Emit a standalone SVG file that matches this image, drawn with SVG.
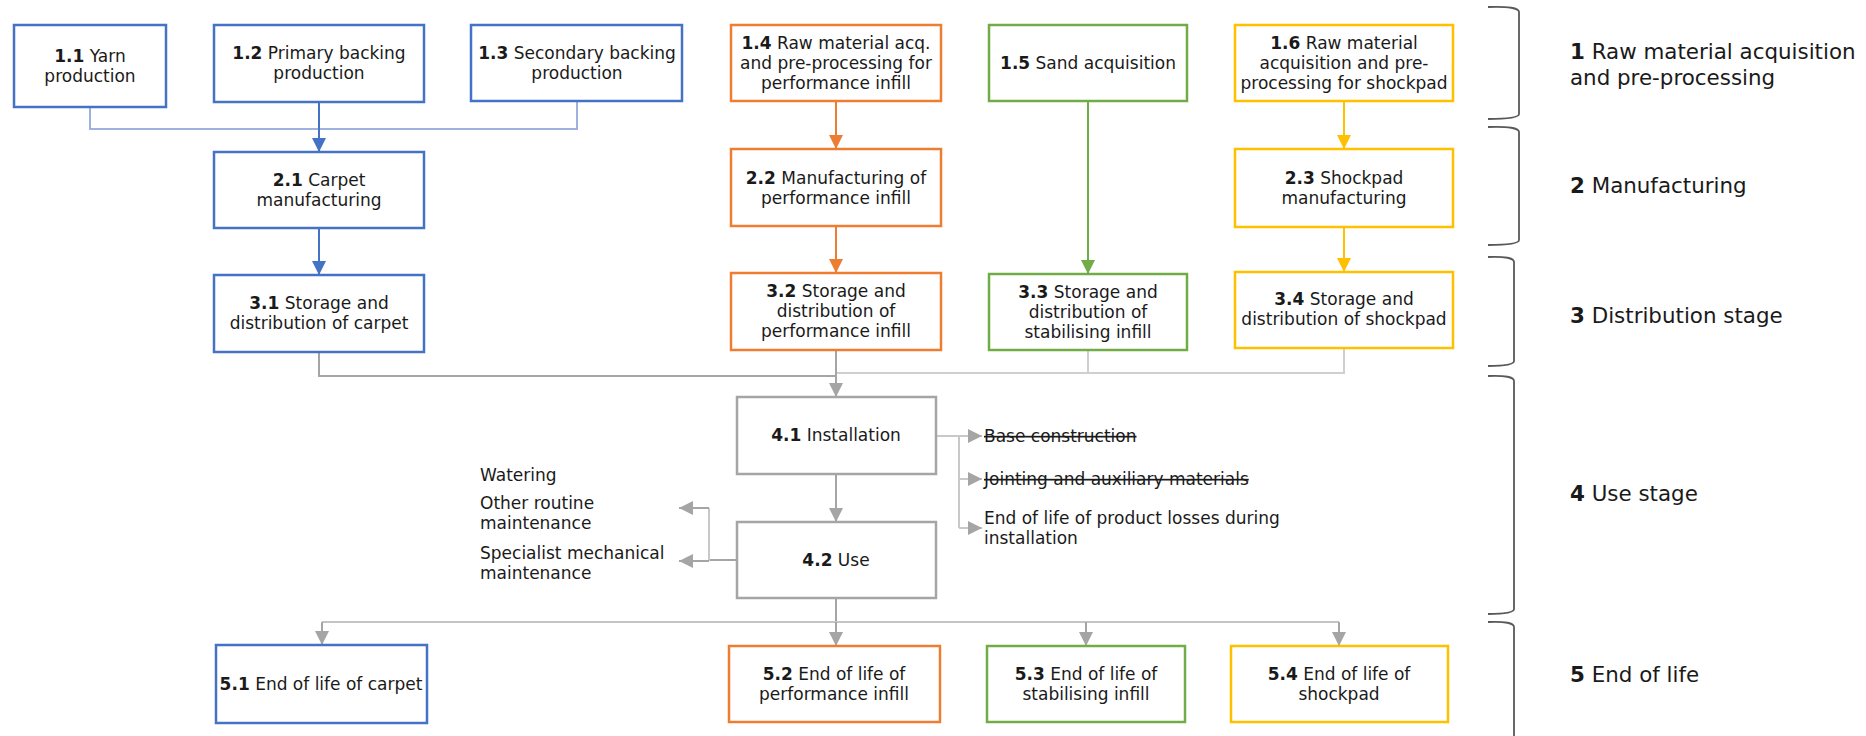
<svg xmlns="http://www.w3.org/2000/svg" width="1866" height="736" viewBox="0 0 1866 736">
<style>
text{font-family:"DejaVu Sans","Open Sans","Liberation Sans",sans-serif;fill:#1a1a1a}
.t{font-size:17px;text-anchor:middle}
.s{font-size:17px}
.lab{font-size:21.4px}
.b{font-weight:bold}
.box{fill:#fff;stroke-width:2.5}
.blue{stroke:#4472C4}.orange{stroke:#ED7D31}.green{stroke:#70AD47}.yellow{stroke:#FFC000}.grey{stroke:#A5A5A5}
.ln{fill:none;stroke-width:2}
.strike{text-decoration:line-through}
.br{fill:none;stroke:#595959;stroke-width:1.8}
</style>
<defs>
<marker id="aB" markerUnits="userSpaceOnUse" markerWidth="14" markerHeight="14" refX="14" refY="7" orient="auto"><path d="M0,0L14,7L0,14z" fill="#4472C4"/></marker>
<marker id="aO" markerUnits="userSpaceOnUse" markerWidth="14" markerHeight="14" refX="14" refY="7" orient="auto"><path d="M0,0L14,7L0,14z" fill="#ED7D31"/></marker>
<marker id="aG" markerUnits="userSpaceOnUse" markerWidth="14" markerHeight="14" refX="14" refY="7" orient="auto"><path d="M0,0L14,7L0,14z" fill="#70AD47"/></marker>
<marker id="aY" markerUnits="userSpaceOnUse" markerWidth="14" markerHeight="14" refX="14" refY="7" orient="auto"><path d="M0,0L14,7L0,14z" fill="#FFC000"/></marker>
<marker id="aR" markerUnits="userSpaceOnUse" markerWidth="14" markerHeight="14" refX="14" refY="7" orient="auto"><path d="M0,0L14,7L0,14z" fill="#A5A5A5"/></marker>
</defs>
<rect width="1866" height="736" fill="#fff"/>

<g id="connectors">
<path class="ln" stroke="#9DB3DE" d="M90,107V129H577V101"/>
<path class="ln" stroke="#4472C4" stroke-width="1.6" d="M319,102V152" marker-end="url(#aB)"/>
<path class="ln" stroke="#4472C4" stroke-width="1.6" d="M319,228V275" marker-end="url(#aB)"/>
<path class="ln" stroke="#ED7D31" stroke-width="1.6" d="M836,101V149" marker-end="url(#aO)"/>
<path class="ln" stroke="#ED7D31" stroke-width="1.6" d="M836,226V273" marker-end="url(#aO)"/>
<path class="ln" stroke="#70AD47" stroke-width="1.6" d="M1088,101V274" marker-end="url(#aG)"/>
<path class="ln" stroke="#FFC000" stroke-width="1.6" d="M1344,101V149" marker-end="url(#aY)"/>
<path class="ln" stroke="#FFC000" stroke-width="1.6" d="M1344,227V272" marker-end="url(#aY)"/>
<path class="ln" stroke="#A5A5A5" d="M319,352V376H836"/>
<path class="ln" stroke="#CFCFCF" stroke-width="2.5" d="M1088,350V373M1344,348V373H836"/>
<path class="ln" stroke="#A5A5A5" d="M836,350V397" marker-end="url(#aR)"/>
<path class="ln" stroke="#A5A5A5" d="M836,474V522" marker-end="url(#aR)"/>
<path class="ln" stroke="#C8C8C8" d="M936,436H982" marker-end="url(#aR)"/>
<path class="ln" stroke="#C8C8C8" d="M959,436V528"/>
<path class="ln" stroke="#C8C8C8" d="M959,479H982" marker-end="url(#aR)"/>
<path class="ln" stroke="#C8C8C8" d="M959,528H982" marker-end="url(#aR)"/>
<path class="ln" stroke="#A5A5A5" d="M737,560H708"/>
<path class="ln" stroke="#C8C8C8" d="M709,561V508"/>
<path class="ln" stroke="#A5A5A5" d="M709,561H679" marker-end="url(#aR)"/>
<path class="ln" stroke="#A5A5A5" d="M709,508H679" marker-end="url(#aR)"/>
<path class="ln" stroke="#A5A5A5" d="M836,598V622"/>
<path class="ln" stroke="#C4C4C4" d="M322,622H1339"/>
<path class="ln" stroke="#A5A5A5" d="M322,622V645" marker-end="url(#aR)"/>
<path class="ln" stroke="#A5A5A5" d="M836,622V646" marker-end="url(#aR)"/>
<path class="ln" stroke="#A5A5A5" d="M1086,622V646" marker-end="url(#aR)"/>
<path class="ln" stroke="#A5A5A5" d="M1339,622V646" marker-end="url(#aR)"/>
</g>

<g id="n1_1"><rect class="box blue" x="14" y="25" width="152" height="82"/><text class="t" x="90" y="62"><tspan class="b">1.1</tspan> Yarn<tspan x="90" dy="20">production</tspan></text></g>
<g id="n1_2"><rect class="box blue" x="214" y="25" width="210" height="77"/><text class="t" x="319" y="59"><tspan class="b">1.2</tspan> Primary backing<tspan x="319" dy="20">production</tspan></text></g>
<g id="n1_3"><rect class="box blue" x="471" y="25" width="211" height="76"/><text class="t" x="577" y="59"><tspan class="b">1.3</tspan> Secondary backing<tspan x="577" dy="20">production</tspan></text></g>
<g id="n1_4"><rect class="box orange" x="731" y="25" width="210" height="76"/><text class="t" x="836" y="49"><tspan class="b">1.4</tspan> Raw material acq.<tspan x="836" dy="20">and pre-processing for</tspan><tspan x="836" dy="20">performance infill</tspan></text></g>
<g id="n1_5"><rect class="box green" x="989" y="25" width="198" height="76"/><text class="t" x="1088" y="69"><tspan class="b">1.5</tspan> Sand acquisition</text></g>
<g id="n1_6"><rect class="box yellow" x="1235" y="25" width="218" height="76"/><text class="t" x="1344" y="49"><tspan class="b">1.6</tspan> Raw material<tspan x="1344" dy="20">acquisition and pre-</tspan><tspan x="1344" dy="20">processing for shockpad</tspan></text></g>

<g id="n2_1"><rect class="box blue" x="214" y="152" width="210" height="76"/><text class="t" x="319" y="186"><tspan class="b">2.1</tspan> Carpet<tspan x="319" dy="20">manufacturing</tspan></text></g>
<g id="n2_2"><rect class="box orange" x="731" y="149" width="210" height="77"/><text class="t" x="836" y="184"><tspan class="b">2.2</tspan> Manufacturing of<tspan x="836" dy="20">performance infill</tspan></text></g>
<g id="n2_3"><rect class="box yellow" x="1235" y="149" width="218" height="78"/><text class="t" x="1344" y="184"><tspan class="b">2.3</tspan> Shockpad<tspan x="1344" dy="20">manufacturing</tspan></text></g>

<g id="n3_1"><rect class="box blue" x="214" y="275" width="210" height="77"/><text class="t" x="319" y="309"><tspan class="b">3.1</tspan> Storage and<tspan x="319" dy="20">distribution of carpet</tspan></text></g>
<g id="n3_2"><rect class="box orange" x="731" y="273" width="210" height="77"/><text class="t" x="836" y="297"><tspan class="b">3.2</tspan> Storage and<tspan x="836" dy="20">distribution of</tspan><tspan x="836" dy="20">performance infill</tspan></text></g>
<g id="n3_3"><rect class="box green" x="989" y="274" width="198" height="76"/><text class="t" x="1088" y="298"><tspan class="b">3.3</tspan> Storage and<tspan x="1088" dy="20">distribution of</tspan><tspan x="1088" dy="20">stabilising infill</tspan></text></g>
<g id="n3_4"><rect class="box yellow" x="1235" y="272" width="218" height="76"/><text class="t" x="1344" y="305"><tspan class="b">3.4</tspan> Storage and<tspan x="1344" dy="20">distribution of shockpad</tspan></text></g>

<g id="n4_1"><rect class="box grey" x="737" y="397" width="199" height="77"/><text class="t" x="836" y="441"><tspan class="b">4.1</tspan> Installation</text></g>
<g id="n4_2"><rect class="box grey" x="737" y="522" width="199" height="76"/><text class="t" x="836" y="566"><tspan class="b">4.2</tspan> Use</text></g>

<g id="side_install">
<text class="s strike" x="984" y="442">Base construction</text>
<text class="s strike" x="984" y="485">Jointing and auxiliary materials</text>
<text class="s" x="984" y="524">End of life of product losses during<tspan x="984" dy="20">installation</tspan></text>
</g>
<g id="side_use">
<text class="s" x="480" y="481">Watering</text>
<text class="s" x="480" y="509">Other routine<tspan x="480" dy="20">maintenance</tspan></text>
<text class="s" x="480" y="559">Specialist mechanical<tspan x="480" dy="20">maintenance</tspan></text>
</g>

<g id="n5_1"><rect class="box blue" x="216" y="645" width="211" height="78"/><text class="t" x="321" y="690"><tspan class="b">5.1</tspan> End of life of carpet</text></g>
<g id="n5_2"><rect class="box orange" x="729" y="646" width="211" height="76"/><text class="t" x="834" y="680"><tspan class="b">5.2</tspan> End of life of<tspan x="834" dy="20">performance infill</tspan></text></g>
<g id="n5_3"><rect class="box green" x="987" y="646" width="198" height="76"/><text class="t" x="1086" y="680"><tspan class="b">5.3</tspan> End of life of<tspan x="1086" dy="20">stabilising infill</tspan></text></g>
<g id="n5_4"><rect class="box yellow" x="1231" y="646" width="217" height="76"/><text class="t" x="1339" y="680"><tspan class="b">5.4</tspan> End of life of<tspan x="1339" dy="20">shockpad</tspan></text></g>

<g id="stages">
<path class="br" d="M1488,7Q1519,6 1519,12V114Q1519,119 1488,119"/>
<path class="br" d="M1488,127Q1519,126 1519,132V240Q1519,245 1488,245"/>
<path class="br" d="M1488,257Q1514,256 1514,262V361Q1514,366 1488,366"/>
<path class="br" d="M1488,376Q1514,375 1514,381V609Q1514,614 1488,614"/>
<path class="br" d="M1488,622Q1514,621 1514,627V740"/>
<text class="lab" x="1570" y="59"><tspan class="b">1</tspan> Raw material acquisition<tspan x="1570" dy="26">and pre-processing</tspan></text>
<text class="lab" x="1570" y="193"><tspan class="b">2</tspan> Manufacturing</text>
<text class="lab" x="1570" y="323"><tspan class="b">3</tspan> Distribution stage</text>
<text class="lab" x="1570" y="501"><tspan class="b">4</tspan> Use stage</text>
<text class="lab" x="1570" y="682"><tspan class="b">5</tspan> End of life</text>
</g>
</svg>
